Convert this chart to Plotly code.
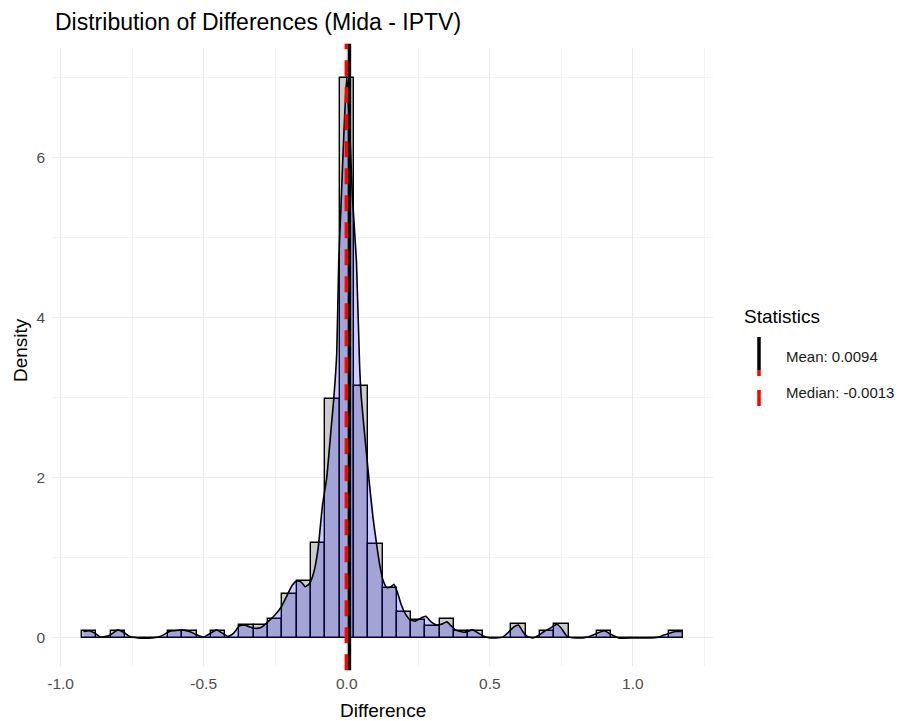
import plotly.graph_objects as go

# Histogram of differences: bin centres (width 0.05) and density heights
bin_centers = [round(-0.90 + 0.05 * i, 2) for i in range(42)]
bin_density = [
    0.09, 0.00, 0.09, 0.00, 0.00, 0.00, 0.09, 0.09, 0.00, 0.09,
    0.00, 0.16, 0.16, 0.24, 0.55, 0.71, 1.18, 2.99, 7.00, 3.15,
    1.17, 0.62, 0.32, 0.23, 0.15, 0.24, 0.09, 0.09, 0.00, 0.00,
    0.17, 0.00, 0.09, 0.17, 0.00, 0.00, 0.09, 0.00, 0.00, 0.00,
    0.00, 0.09,
]
bin_width = 0.05

# Kernel density estimate of the same differences
kde_x = [
    -0.92, -0.90, -0.88, -0.86, -0.83, -0.80, -0.78, -0.76, -0.73, -0.68,
    -0.65, -0.62, -0.60, -0.575, -0.55, -0.525, -0.50, -0.475, -0.455, -0.435,
    -0.415, -0.395, -0.375, -0.355, -0.34, -0.32, -0.30, -0.285, -0.27, -0.25,
    -0.23, -0.21, -0.19, -0.175, -0.16, -0.145, -0.13, -0.115, -0.10, -0.085,
    -0.07, -0.055, -0.045, -0.035, -0.028, -0.02, -0.01, 0.0, 0.01, 0.02,
    0.034, 0.045, 0.051, 0.065, 0.08, 0.092, 0.104, 0.115, 0.127, 0.14,
    0.155, 0.165, 0.178, 0.19, 0.205, 0.22, 0.24, 0.26, 0.276, 0.295,
    0.314, 0.33, 0.35, 0.365, 0.38, 0.41, 0.44, 0.46, 0.48, 0.50,
    0.52, 0.545, 0.565, 0.585, 0.60, 0.615, 0.63, 0.65, 0.67, 0.69,
    0.71, 0.735, 0.75, 0.77, 0.80, 0.84, 0.87, 0.90, 0.92, 0.95,
    1.00, 1.05, 1.09, 1.12, 1.15, 1.17,
]
kde_y = [
    0.08, 0.09, 0.06, 0.01, 0.03, 0.10, 0.07, 0.02, 0.00, 0.00,
    0.02, 0.08, 0.09, 0.10, 0.08, 0.04, 0.01, 0.06, 0.10, 0.06,
    0.02, 0.06, 0.15, 0.16, 0.14, 0.12, 0.13, 0.17, 0.22, 0.29,
    0.38, 0.52, 0.66, 0.71, 0.70, 0.64, 0.68, 0.82, 1.12, 1.65,
    2.00, 2.60, 3.00, 3.55, 4.70, 5.40, 6.30, 7.02, 6.40, 5.50,
    4.70, 3.40, 3.00, 2.45, 1.90, 1.50, 1.18, 0.92, 0.72, 0.63,
    0.64, 0.67, 0.56, 0.42, 0.30, 0.23, 0.21, 0.25, 0.27, 0.20,
    0.16, 0.17, 0.20, 0.15, 0.10, 0.07, 0.10, 0.06, 0.02, 0.00,
    0.00, 0.01, 0.07, 0.14, 0.16, 0.08, 0.02, 0.00, 0.03, 0.08,
    0.12, 0.17, 0.12, 0.02, 0.00, 0.01, 0.05, 0.09, 0.05, 0.00,
    0.00, 0.00, 0.01, 0.05, 0.08, 0.08,
]

mean_diff = 0.0094
median_diff = -0.0013

x_ticks = [-1.0, -0.5, 0.0, 0.5, 1.0]
x_tick_text = ["-1.0", "-0.5", "0.0", "0.5", "1.0"]
y_ticks = [0, 2, 4, 6]
y_tick_text = ["0", "2", "4", "6"]

FONT = "Liberation Sans, Arial, sans-serif"

fig = go.Figure()

fig.add_trace(go.Bar(
    x=bin_centers, y=bin_density, width=bin_width,
    marker=dict(color="#cccccc", line=dict(color="black", width=1.4)),
    showlegend=False, hoverinfo="skip",
))

fig.add_trace(go.Scatter(
    x=kde_x, y=kde_y, mode="lines", fill="tozeroy",
    fillcolor="rgba(0,0,255,0.2)",
    line=dict(color="black", width=1.6, shape="spline", smoothing=0.5),
    showlegend=False, hoverinfo="skip",
))

# Mean and median reference lines
fig.add_shape(type="line", x0=mean_diff, x1=mean_diff, xref="x",
              y0=-0.007, y1=1.007, yref="paper",
              line=dict(color="black", width=3.5))
fig.add_shape(type="line", x0=median_diff, x1=median_diff, xref="x",
              y0=-0.007, y1=1.007, yref="paper",
              line=dict(color="red", width=3.5, dash="16px,11px"))

# Plot-area geometry in pixels, used to place the side legend
W, H = 900, 721
L, R, T, B = 52, 187, 48, 55
pw, ph = W - L - R, H - T - B


def px(xp):
    return (xp - L) / pw


def py(yp):
    return (H - B - yp) / ph


# "Statistics" legend drawn with vertical keys
fig.add_annotation(text="Statistics", xref="paper", yref="paper",
                   x=px(742), y=py(316), xanchor="left", yanchor="middle",
                   showarrow=False, font=dict(family=FONT, size=19, color="black"))
fig.add_shape(type="line", xref="paper", yref="paper",
              x0=px(759), x1=px(759), y0=py(337), y1=py(370),
              line=dict(color="black", width=3.5))
fig.add_shape(type="line", xref="paper", yref="paper",
              x0=px(759), x1=px(759), y0=py(370), y1=py(376),
              line=dict(color="red", width=3.5))
fig.add_shape(type="line", xref="paper", yref="paper",
              x0=px(759), x1=px(759), y0=py(390), y1=py(406),
              line=dict(color="red", width=3.5))
fig.add_annotation(text=f"Mean: {mean_diff:.4f}", xref="paper", yref="paper",
                   x=px(784), y=py(356), xanchor="left", yanchor="middle",
                   showarrow=False, font=dict(family=FONT, size=15, color="#1a1a1a"))
fig.add_annotation(text=f"Median: {median_diff:.4f}", xref="paper", yref="paper",
                   x=px(784), y=py(392), xanchor="left", yanchor="middle",
                   showarrow=False, font=dict(family=FONT, size=15, color="#1a1a1a"))

# Axis titles
fig.add_annotation(text="Difference", xref="paper", yref="paper",
                   x=0.5, y=py(710), xanchor="center", yanchor="middle",
                   showarrow=False, font=dict(family=FONT, size=19, color="black"))
fig.add_annotation(text="Density", xref="paper", yref="paper",
                   x=px(20), y=py(350), xanchor="center", yanchor="middle",
                   textangle=-90, showarrow=False,
                   font=dict(family=FONT, size=19, color="black"))

fig.update_layout(
    width=W, height=H,
    margin=dict(l=L, r=R, t=T, b=B),
    paper_bgcolor="white", plot_bgcolor="white",
    bargap=0,
    title=dict(text="Distribution of Differences (Mida - IPTV)",
               x=55 / W, xanchor="left", xref="container",
               y=1 - 22 / H, yanchor="middle", yref="container",
               font=dict(family=FONT, size=23, color="black")),
    font=dict(family=FONT),
    showlegend=False,
)

fig.update_xaxes(
    range=[-1.03, 1.28],
    tickvals=x_ticks, ticktext=x_tick_text,
    tickfont=dict(family=FONT, size=15.5, color="#4d4d4d"),
    showgrid=True, gridcolor="#ebebeb", gridwidth=1,
    minor=dict(dtick=0.25, tick0=0, showgrid=True, gridcolor="#f3f3f3", gridwidth=1),
    zeroline=False, showline=False, ticks="", ticklabelstandoff=6,
)
fig.update_yaxes(
    range=[-0.351, 7.37],
    tickvals=y_ticks, ticktext=y_tick_text,
    tickfont=dict(family=FONT, size=15.5, color="#4d4d4d"),
    showgrid=True, gridcolor="#ebebeb", gridwidth=1,
    minor=dict(dtick=1, tick0=0, showgrid=True, gridcolor="#f3f3f3", gridwidth=1),
    zeroline=False, showline=False, ticks="", ticklabelstandoff=6,
)

fig.write_html("out.html")
